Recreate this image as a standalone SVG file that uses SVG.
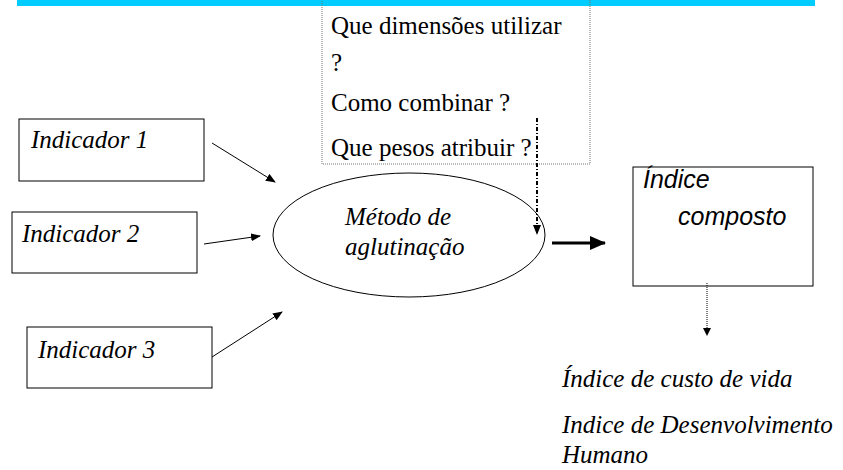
<svg xmlns="http://www.w3.org/2000/svg" width="843" height="470" viewBox="0 0 843 470">
<style>
.box{fill:#fff;stroke:#000;stroke-width:1}
.t{font-family:"Liberation Serif","Times New Roman",serif;font-size:25px;fill:#000}
.ti{font-family:"Liberation Serif","Times New Roman",serif;font-style:italic;font-size:25px;fill:#000}
.si{font-family:"Liberation Sans",Arial,sans-serif;font-style:italic;font-size:25px;fill:#000}
.c{stroke:#000;fill:none}
</style>
<defs>
<marker id="ah" markerWidth="10" markerHeight="8" refX="9" refY="4" orient="auto" markerUnits="userSpaceOnUse"><path d="M0,0 L10,4 L0,8 Z" fill="#000"/></marker>
<marker id="ahb" markerWidth="16" markerHeight="14" refX="15" refY="7" orient="auto" markerUnits="userSpaceOnUse"><path d="M0,0 L16,7 L0,14 Z" fill="#000"/></marker>
<marker id="ahs" markerWidth="8" markerHeight="8" refX="7" refY="4" orient="auto" markerUnits="userSpaceOnUse"><path d="M0,0 L8,4 L0,8 Z" fill="#000"/></marker>
</defs>
<rect x="17" y="0" width="798" height="6" fill="#00CCFF"/>
<g id="questions">
<rect x="322" y="-2" width="268" height="166" fill="none" stroke="#777" stroke-width="1" stroke-dasharray="1,1"/>
<text class="t" x="331" y="34">Que dimensões utilizar</text>
<text class="t" x="331" y="71">?</text>
<text class="t" x="331" y="111">Como combinar ?</text>
<text class="t" x="331" y="156">Que pesos atribuir ?</text>
</g>
<g id="ind1"><rect class="box" x="19" y="119" width="185" height="62"/><text class="ti" x="31" y="148">Indicador 1</text></g>
<g id="ind2"><rect class="box" x="12" y="212" width="185" height="61"/><text class="ti" x="22" y="242">Indicador 2</text></g>
<g id="ind3"><rect class="box" x="27" y="327" width="185" height="61"/><text class="ti" x="38" y="358">Indicador 3</text></g>
<g id="metodo"><ellipse cx="409" cy="235" rx="136" ry="62" fill="#fff" stroke="#000" stroke-width="1"/>
<text class="ti" x="345" y="225">Método de</text>
<text class="ti" x="345" y="255">aglutinação</text></g>
<g id="composto"><rect class="box" x="633" y="167" width="180" height="119"/>
<text class="si" x="643" y="188">Índice</text>
<text class="si" x="678" y="225">composto</text></g>
<g id="exemplos">
<text class="ti" x="562" y="387">Índice de custo de vida</text>
<text class="ti" x="562" y="433">Indice de Desenvolvimento</text>
<text class="ti" x="562" y="463">Humano</text>
</g>
<g id="connectors">
<line class="c" x1="212" y1="143" x2="275" y2="182" marker-end="url(#ah)"/>
<line class="c" x1="204" y1="244" x2="260" y2="236" marker-end="url(#ah)"/>
<line class="c" x1="212" y1="357" x2="282" y2="312" marker-end="url(#ah)"/>
<line class="c" x1="537" y1="118" x2="537" y2="234" stroke-width="2" stroke-dasharray="4,2,1,2" marker-end="url(#ah)"/>
<line class="c" x1="552" y1="243" x2="605" y2="243" stroke-width="3" marker-end="url(#ahb)"/>
<line class="c" x1="707" y1="283" x2="707" y2="335" stroke-width="1" stroke-dasharray="1,1" marker-end="url(#ahs)"/>
</g>
</svg>
